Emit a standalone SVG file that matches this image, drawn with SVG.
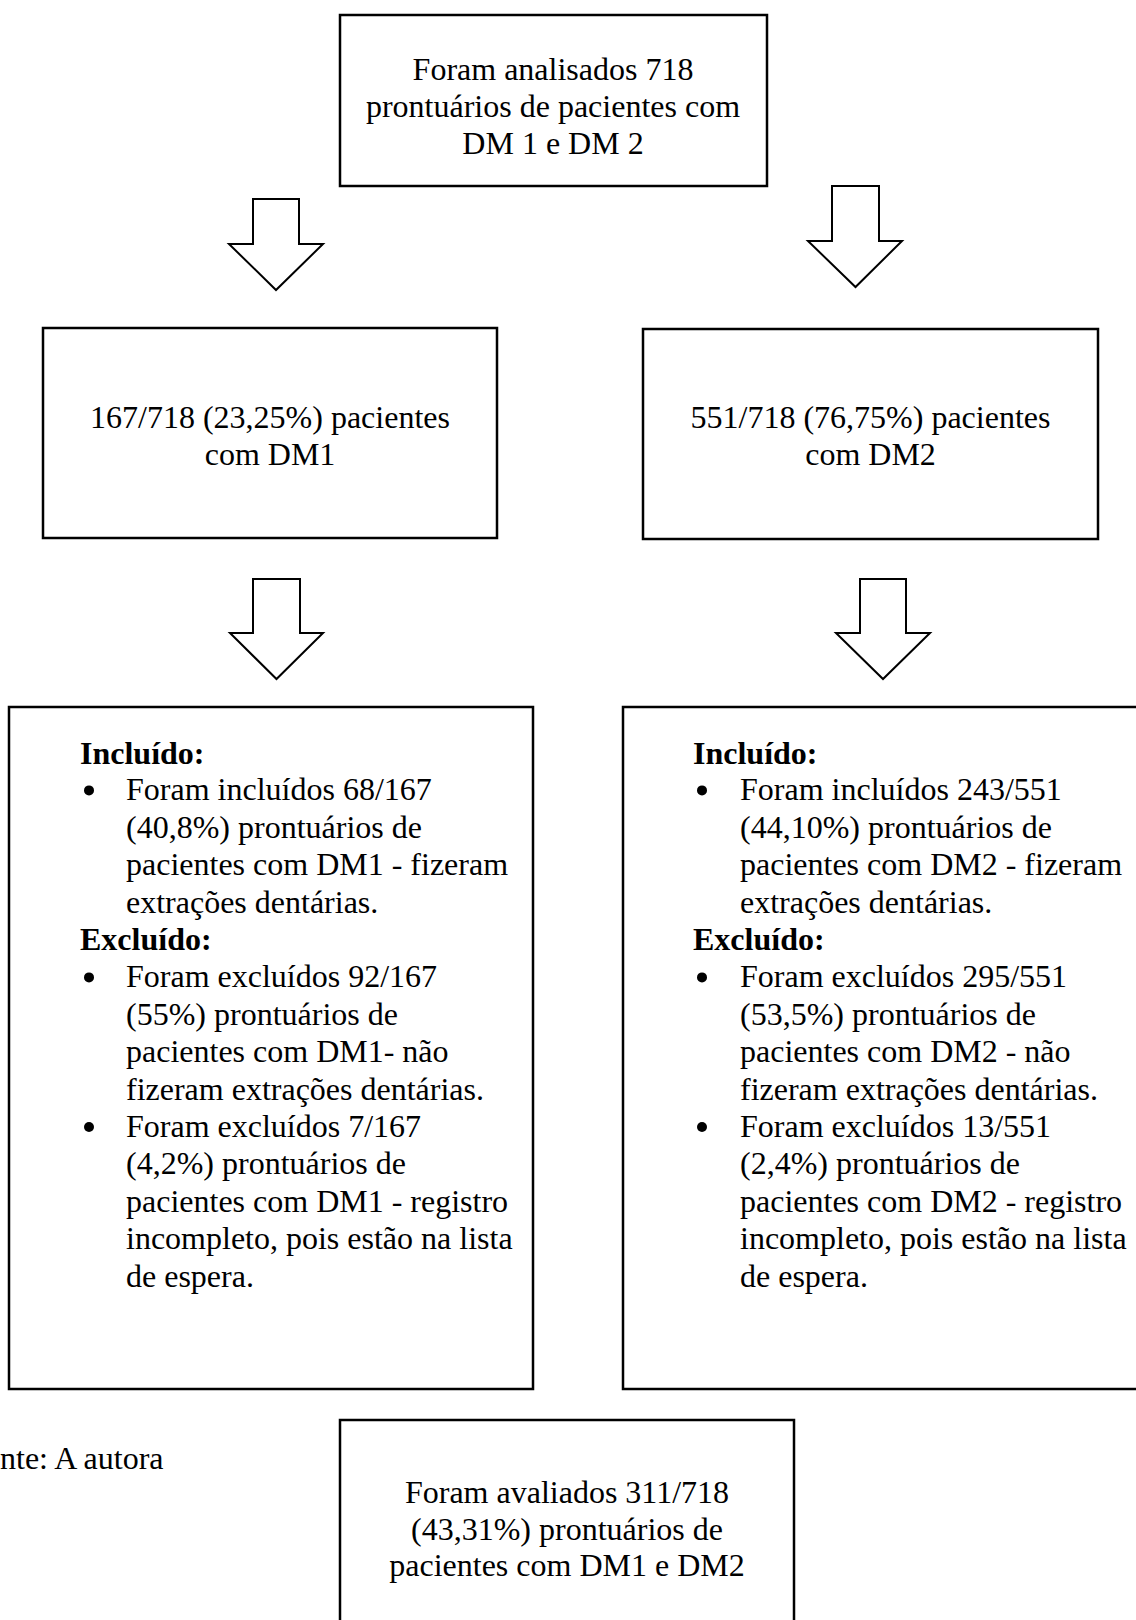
<svg xmlns="http://www.w3.org/2000/svg" width="1136" height="1620" viewBox="0 0 1136 1620">
<style>
  .box { fill: #ffffff; stroke: #000000; stroke-width: 2.5; }
  .arrow { fill: #ffffff; stroke: #000000; stroke-width: 2; stroke-linejoin: miter; }
  text { font-family: "Liberation Serif", "Times New Roman", serif; font-size: 32px; fill: #000000; }
  .c { text-anchor: middle; }
  .b { font-weight: bold; }
  .dot { fill: #000000; }
</style>
<rect x="0" y="0" width="1136" height="1620" fill="#ffffff"/>

<g id="connectors">
  <polygon class="arrow" points="253,199 299,199 299,244 323,244 276,290 229,244 253,244"/>
  <polygon class="arrow" points="832,186 879,186 879,241 902,241 855.5,287 808,241 832,241"/>
  <polygon class="arrow" points="253,579 300,579 300,633 323,633 276.5,679 230,633 253,633"/>
  <polygon class="arrow" points="860,579 906,579 906,633 930,633 883,679 836,633 860,633"/>
</g>

<g id="node-total">
  <rect class="box" x="340" y="15" width="427" height="171"/>
  <text class="c" x="553" y="80">Foram analisados 718</text>
  <text class="c" x="553" y="117">prontuários de pacientes com</text>
  <text class="c" x="553" y="154">DM 1 e DM 2</text>
</g>

<g id="node-dm1">
  <rect class="box" x="43" y="328" width="454" height="210"/>
  <text class="c" x="270" y="428">167/718 (23,25%) pacientes</text>
  <text class="c" x="270" y="465">com DM1</text>
</g>

<g id="node-dm2">
  <rect class="box" x="643" y="329" width="455" height="210"/>
  <text class="c" x="870.5" y="428">551/718 (76,75%) pacientes</text>
  <text class="c" x="870.5" y="465">com DM2</text>
</g>

<g id="node-dm1-criteria">
  <rect class="box" x="9" y="707" width="524" height="682"/>
  <text class="b" x="80" y="764">Incluído:</text>
  <circle class="dot" cx="89" cy="790.4" r="5"/>
  <text x="126" y="800.4">Foram incluídos 68/167</text>
  <text x="126" y="837.8">(40,8%) prontuários de</text>
  <text x="126" y="875.2">pacientes com DM1 - fizeram</text>
  <text x="126" y="912.6">extrações dentárias.</text>
  <text class="b" x="80" y="950">Excluído:</text>
  <circle class="dot" cx="89" cy="977.4" r="5"/>
  <text x="126" y="987.4">Foram excluídos 92/167</text>
  <text x="126" y="1024.8">(55%) prontuários de</text>
  <text x="126" y="1062.2">pacientes com DM1- não</text>
  <text x="126" y="1099.6">fizeram extrações dentárias.</text>
  <circle class="dot" cx="89" cy="1127" r="5"/>
  <text x="126" y="1137">Foram excluídos 7/167</text>
  <text x="126" y="1174.4">(4,2%) prontuários de</text>
  <text x="126" y="1211.8">pacientes com DM1 - registro</text>
  <text x="126" y="1249.2">incompleto, pois estão na lista</text>
  <text x="126" y="1286.6">de espera.</text>
</g>

<g id="node-dm2-criteria">
  <rect class="box" x="623" y="707" width="520" height="682"/>
  <text class="b" x="693" y="764">Incluído:</text>
  <circle class="dot" cx="702" cy="790.4" r="5"/>
  <text x="740" y="800.4">Foram incluídos 243/551</text>
  <text x="740" y="837.8">(44,10%) prontuários de</text>
  <text x="740" y="875.2">pacientes com DM2 - fizeram</text>
  <text x="740" y="912.6">extrações dentárias.</text>
  <text class="b" x="693" y="950">Excluído:</text>
  <circle class="dot" cx="702" cy="977.4" r="5"/>
  <text x="740" y="987.4">Foram excluídos 295/551</text>
  <text x="740" y="1024.8">(53,5%) prontuários de</text>
  <text x="740" y="1062.2">pacientes com DM2 - não</text>
  <text x="740" y="1099.6">fizeram extrações dentárias.</text>
  <circle class="dot" cx="702" cy="1127" r="5"/>
  <text x="740" y="1137">Foram excluídos 13/551</text>
  <text x="740" y="1174.4">(2,4%) prontuários de</text>
  <text x="740" y="1211.8">pacientes com DM2 - registro</text>
  <text x="740" y="1249.2">incompleto, pois estão na lista</text>
  <text x="740" y="1286.6">de espera.</text>
</g>

<g id="source-note">
  <text x="0" y="1469">nte: A autora</text>
</g>

<g id="node-evaluated">
  <rect class="box" x="340" y="1420" width="454" height="230"/>
  <text class="c" x="567" y="1503">Foram avaliados 311/718</text>
  <text class="c" x="567" y="1540">(43,31%) prontuários de</text>
  <text class="c" x="567" y="1576">pacientes com DM1 e DM2</text>
</g>
</svg>
